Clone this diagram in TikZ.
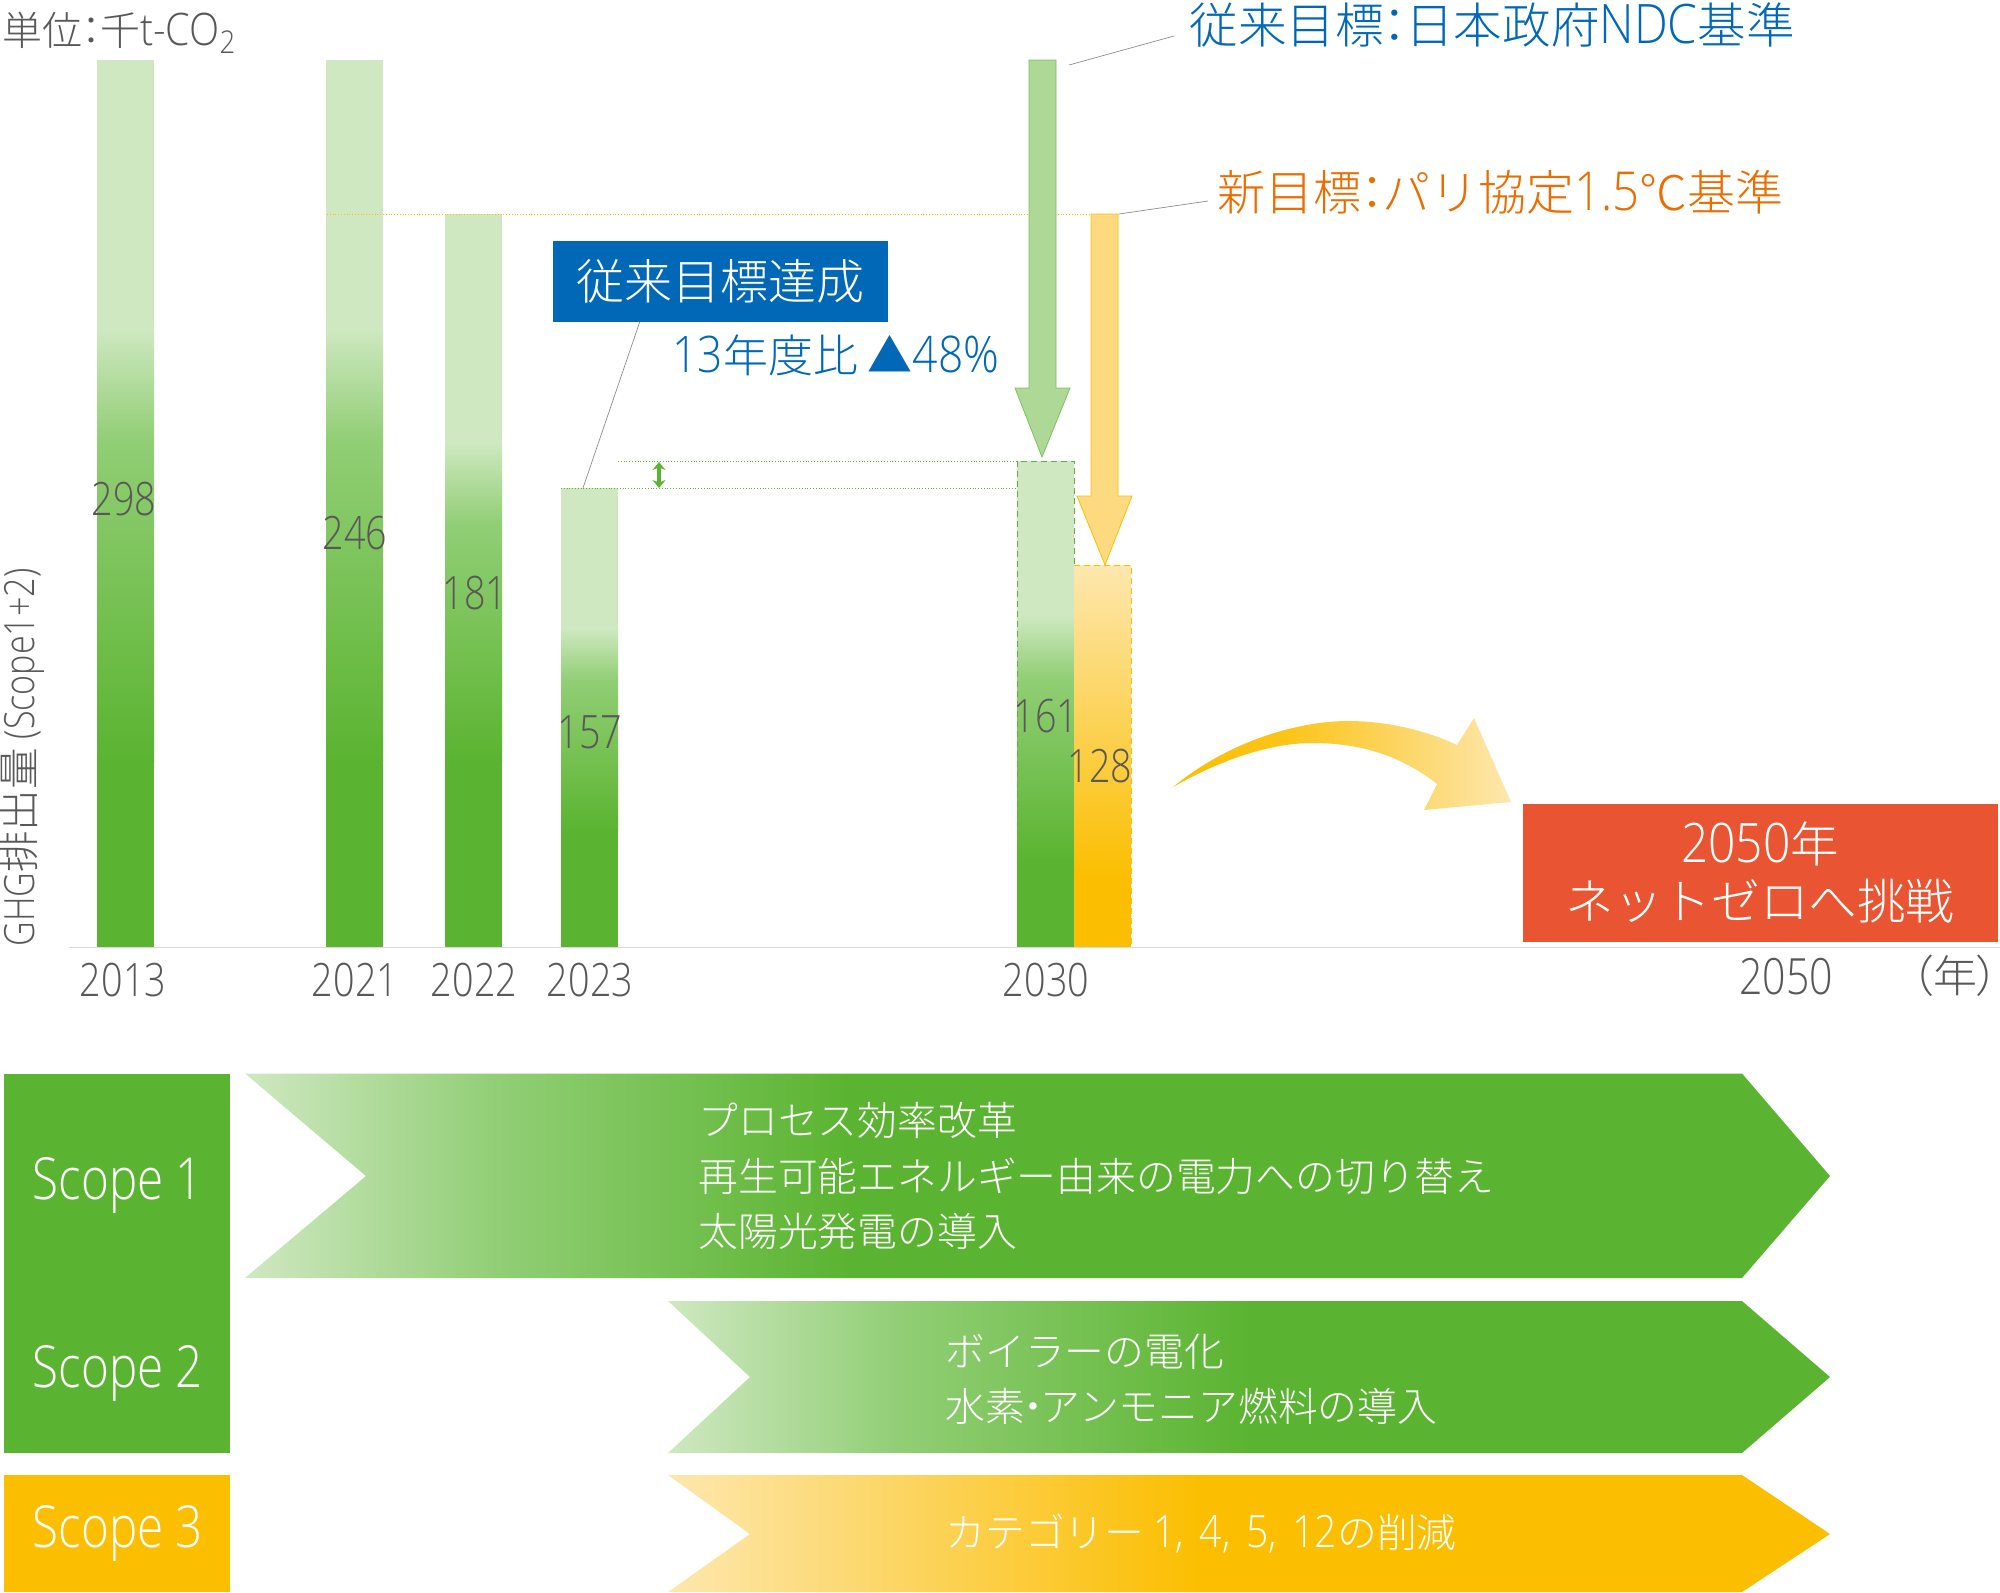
\documentclass[tikz,border=0pt]{standalone}
\usepackage{fontspec}
\setmainfont{Noto Sans CJK JP Light}
\newfontfamily\latfont[FakeStretch=0.82]{Open Sans Light}
\newfontfamily\latwide[FakeStretch=0.88,Scale=1.12]{Open Sans Light}
\newfontfamily\jppalt[RawFeature=+palt]{Noto Sans CJK JP Light}
\newcommand{\latn}[1]{{\latfont #1}}
\newcommand{\latw}[1]{{\latwide #1}}
\newcommand{\jcolon}{\kern-.28em：\kern-.28em}
\usetikzlibrary{arrows.meta}
\definecolor{bargreen}{HTML}{5BB431}
\definecolor{barlight}{HTML}{CFE8C1}
\definecolor{midgreen}{HTML}{91CE75}
\definecolor{barorange}{HTML}{FBBE00}
\definecolor{orangelight}{HTML}{FDE7AE}
\definecolor{arrowgreen}{HTML}{ADD896}
\definecolor{edgegreen}{HTML}{7CC060}
\definecolor{arroworange}{HTML}{FDDA7F}
\definecolor{textblue}{HTML}{0068B7}
\definecolor{textorange}{HTML}{ED6C00}
\definecolor{netred}{HTML}{E95532}
\definecolor{textgrey}{HTML}{595757}
\definecolor{linegrey}{HTML}{8C8C8C}
\pgfdeclareverticalshading{barfade}{100bp}{color(0bp)=(bargreen); color(25bp)=(bargreen); color(62bp)=(midgreen); color(75bp)=(barlight); color(100bp)=(barlight)}
\pgfdeclarehorizontalshading{chevone}{100bp}{color(0bp)=(barlight); color(25bp)=(barlight); color(33bp)=(midgreen); color(44bp)=(bargreen); color(100bp)=(bargreen)}
\pgfdeclarehorizontalshading{chevtwo}{100bp}{color(0bp)=(barlight); color(25bp)=(barlight); color(35bp)=(midgreen); color(50bp)=(bargreen); color(100bp)=(bargreen)}
\pgfdeclarehorizontalshading{chevthree}{100bp}{color(0bp)=(orangelight); color(25bp)=(orangelight); color(48bp)=(barorange); color(100bp)=(barorange)}
\pgfdeclarehorizontalshading{curvearrow}{100bp}{color(0bp)=(barorange); color(25bp)=(barorange); color(42bp)=(barorange!90!white); color(75bp)=(orangelight); color(100bp)=(orangelight)}
\tikzset{
  greytext/.style={inner sep=0pt,text=textgrey,font=\fontsize{#1}{#1}\selectfont},
  whitetext/.style={inner sep=0pt,text=white,align=center,font=\fontsize{#1}{#1}\selectfont},
  leader/.style={draw=linegrey,line width=0.35pt},
  scopebox/.style={minimum width=113pt,inner sep=0pt},
  chevtext/.style={whitetext=20,anchor=west,align=left,font=\fontsize{19.9}{27.75}\selectfont}
}
\begin{document}
\begin{tikzpicture}[x=0.5pt,y=-0.5pt]
  \useasboundingbox (0,0) rectangle (2000,1592);

  % bars
  \foreach \xa/\xb/\ytop/\ylight/\ysolid/\yr/\yx in {
    97/154/60/329/760/2013/123,
    326/383/60/329/760/2021/355,
    445/502/214/442/760/2022/474,
    561/618/488/628/830/2023/590,
    1017/1074/461/615/860/2030/1046}
  {
    \fill[barlight] (\xa,\ytop) rectangle (\xb,\ylight);
    \path[shading=barfade] (\xa,\ylight) rectangle (\xb,\ysolid);
    \fill[bargreen] (\xa,\ysolid) rectangle (\xb,947);
    \node[greytext=23] (year\yr) at (\yx,980) {\latn{\yr}};
  }
  \shade[top color=orangelight,bottom color=barorange] (1074,565) rectangle (1131,878);
  \fill[barorange] (1074,878) rectangle (1131,947);
  \draw[bargreen,line width=0.3pt,densely dashed] (1017,947) |- (1074,461) -- (1074,565);
  \draw[barorange,line width=0.3pt,densely dashed] (1074,565) -| (1131,947);
  \foreach \val/\vx/\vy in {298/124/499,246/355/533,181/475/593,157/590/732,161/1046/716,128/1100/766}
    \node[greytext=23] (value\val) at (\vx,\vy) {\latn{\val}};

  % axis and labels
  \draw[draw=black!15,line width=0.4pt] (69,947) -- (2000,947);
  \node[greytext=25] (year2050) at (1786,977) {\latn{2050}};
  \node[greytext=22] (unityear) at (1955,976) {\jppalt （年）};
  \node[greytext=20,anchor=west] (unit) at (2,33) {単位\jcolon 千\latw{t-CO\textsubscript{2}}};
  \node[greytext=20.8,anchor=west,rotate=90] (axislabel) at (22,947) {\latn{GHG}排出量\latn{ (Scope1+2)}};

  % dotted levels
  \coordinate (newleft) at (327,214);
  \coordinate (newright) at (1091,214);
  \draw[barorange,line width=0.4pt,densely dotted] (newleft) -- (newright);
  \coordinate (olda) at (618,461);
  \coordinate (oldb) at (1017,461);
  \coordinate (nowa) at (561,488);
  \coordinate (nowb) at (1017,488);
  \draw[bargreen,line width=0.4pt,densely dotted] (olda) -- (oldb);
  \draw[bargreen,line width=0.4pt,densely dotted] (nowa) -- (nowb);
  \coordinate (gapa) at (659,462);
  \coordinate (gapb) at (659,488);
  \draw[{Stealth[length=4pt,width=6.5pt]}-{Stealth[length=4pt,width=6.5pt]},bargreen,line width=1.8pt] (gapa) -- (gapb);

  % target arrows
  \draw[fill=arrowgreen,draw=edgegreen,line width=0.4pt] (1029,60) -- (1056,60) -- (1056,388) -- (1070,388) -- (1042,457) -- (1015,388) -- (1029,388) -- cycle;
  \draw[fill=arroworange,draw=barorange,line width=0.4pt] (1091,214) -- (1118,214) -- (1118,496) -- (1132,496) -- (1105,565) -- (1077,496) -- (1091,496) -- cycle;

  % target labels
  \node[anchor=west,inner sep=0pt,text=textblue,font=\fontsize{24.3}{24}\selectfont] (ndc) at (1189,25) {従来目標\jcolon 日本政府\latw{NDC}基準};
  \node[anchor=west,inner sep=0pt,text=textorange,font=\fontsize{24}{24}\selectfont] (paris) at (1217,192) {新目標\jcolon パリ協定\latw{1.5}℃基準};
  \coordinate (ndcend) at (1069,65);
  \coordinate (parisend) at (1119,214);
  \draw[leader] ([shift={(-15,11)}]ndc.west) -- (ndcend);
  \draw[leader] ([shift={(-9,9)}]paris.west) -- (parisend);

  \node[fill=textblue,minimum width=167.5pt,minimum height=40.5pt,inner sep=0pt,text=white,font=\fontsize{24}{24}\selectfont] (done) at (720,281) {従来目標達成};
  \node[anchor=west,inner sep=0pt,text=textblue,font=\fontsize{22.5}{24}\selectfont] (ratio) at (672,355) {\latw{13}年度比 ▲\latw{48\%}};
  \coordinate (doneend) at (583,488);
  \draw[leader] (done.207) -- (doneend);

  % 2050
  \path[shading=curvearrow] (1173,787) .. controls (1230,740) and (1300,721) .. (1348,721)
    .. controls (1390,721) and (1430,732) .. (1457,745) -- (1474,718) -- (1511,802) -- (1424,810) -- (1437,784)
    .. controls (1400,755) and (1360,743) .. (1312,743) .. controls (1270,743) and (1220,760) .. (1173,787) -- cycle;
  \node[fill=netred,minimum width=237.5pt,minimum height=69pt,inner sep=0pt,whitetext=24,font=\fontsize{24.3}{28.5}\selectfont] (netzero) at (1760,873) {\latw{2050}年\\ネットゼロへ挑戦};

  % scopes
  \node[scopebox,fill=bargreen,minimum height=189.5pt,anchor=north west] (scopeboxa) at (4,1073.5) {};
  \node[scopebox,fill=barorange,minimum height=58.5pt,anchor=north west] (scopeboxc) at (4,1475) {};
  \node[whitetext=29] (scopea) at (118,1185) {\latn{Scope 1}};
  \node[whitetext=29] (scopeb) at (118,1373) {\latn{Scope 2}};
  \node[whitetext=29] (scopec) at (118,1533) {\latn{Scope 3}};

  \path[shading=chevone] (245,1073.5) -- (1742,1073.5) -- (1830,1176) -- (1742,1278) -- (245,1278) -- (366,1176) -- cycle;
  \path[shading=chevtwo] (668,1301) -- (1742,1301) -- (1830,1377) -- (1742,1453) -- (668,1453) -- (750,1377) -- cycle;
  \path[shading=chevthree] (668,1475) -- (1742,1475) -- (1830,1534) -- (1742,1592) -- (668,1592) -- (750,1534) -- cycle;

  \node[chevtext] (measurea) at (698,1176) {プロセス効率改革\\再生可能エネルギー由来の電力への切り替え\\太陽光発電の導入};
  \node[chevtext] (measureb) at (945,1379) {ボイラーの電化\\水素\kern-.3em・\kern-.3emアンモニア燃料の導入};
  \node[chevtext] (measurec) at (945,1534) {カテゴリー \latw{1,\ \kern2.7pt 4,\ \kern2.7pt 5,\ \kern2.7pt 12}の削減};
\end{tikzpicture}
\end{document}
